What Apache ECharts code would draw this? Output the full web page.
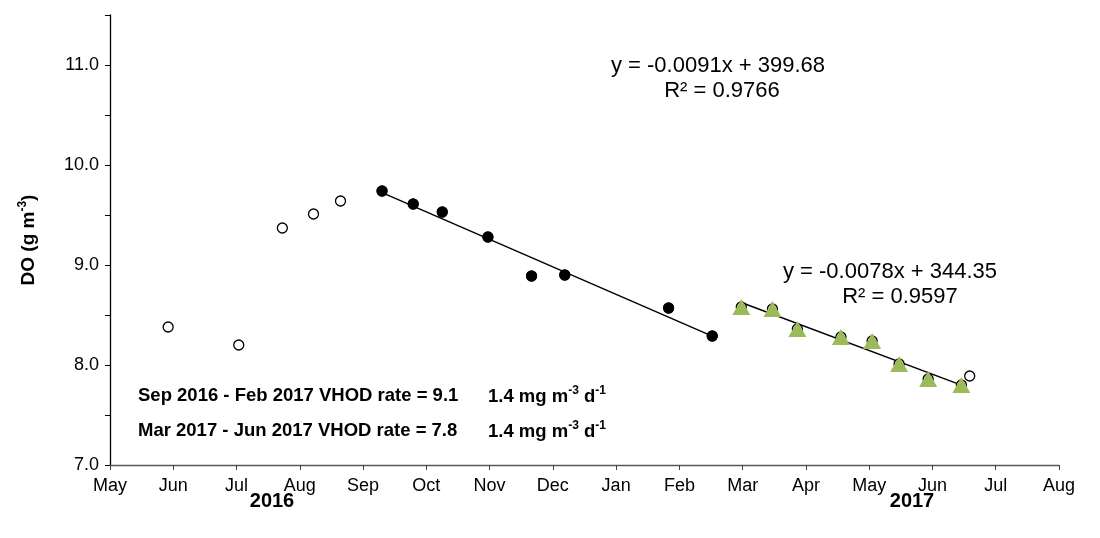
<!DOCTYPE html>
<html>
<head>
<meta charset="utf-8">
<script src="https://cdn.jsdelivr.net/npm/echarts@6/dist/echarts.min.js"></script>
<style>
  html, body { margin: 0; padding: 0; background: #fff; }
  #chart { width: 1100px; height: 538px; }
</style>
</head>
<body>
<div id="chart"></div>
<script>
// ---- Data ----
const monthLabels = ['May','Jun','Jul','Aug','Sep','Oct','Nov','Dec','Jan','Feb','Mar','Apr','May','Jun','Jul','Aug'];
const yTickLabels = ['7.0','8.0','9.0','10.0','11.0'];

// all profile dates (open circles)
const allDates = ['2016-05-29','2016-07-02','2016-07-23','2016-08-07','2016-08-20',
  '2016-09-09','2016-09-24','2016-10-08','2016-10-30','2016-11-20','2016-12-06','2017-01-25','2017-02-15',
  '2017-03-01','2017-03-16','2017-03-28','2017-04-18','2017-05-03','2017-05-16','2017-05-30','2017-06-15',
  '2017-06-19'];
const allDO = [8.38, 8.20, 9.37, 9.51, 9.64,
  9.74, 9.61, 9.53, 9.28, 8.89, 8.90, 8.57, 8.29,
  8.58, 8.56, 8.36, 8.28, 8.24, 8.01, 7.86, 7.80,
  7.89];

// Sep 2016 - Feb 2017 VHOD period (filled circles)
const sepFebDates = ['2016-09-09','2016-09-24','2016-10-08','2016-10-30','2016-11-20','2016-12-06','2017-01-25','2017-02-15'];
const sepFebDO = [9.74, 9.61, 9.53, 9.28, 8.89, 8.90, 8.57, 8.29];

// Mar 2017 - Jun 2017 VHOD period (green triangles)
const marJunDates = ['2017-03-01','2017-03-16','2017-03-28','2017-04-18','2017-05-03','2017-05-16','2017-05-30','2017-06-15'];
const marJunDO = [8.58, 8.56, 8.36, 8.28, 8.24, 8.01, 7.86, 7.80];

const eq1 = ['y = -0.0091x + 399.68', 'R² = 0.9766'];
const eq2 = ['y = -0.0078x + 344.35', 'R² = 0.9597'];
const rate1 = ['Sep 2016 - Feb 2017 VHOD rate = 9.1', '1.4 mg m', '-3', ' d', '-1'];
const rate2 = ['Mar 2017 - Jun 2017 VHOD rate = 7.8', '1.4 mg m', '-3', ' d', '-1'];
const yearLabels = ['2016', '2017'];

// ---- Axis mapping: evenly spaced month ticks (start 1 May 2016, 15 intervals to 1 Aug 2017) ----
const origin = Date.UTC(2016, 4, 1);
const spanDays = (Date.UTC(2017, 7, 1) - origin) / 86400000;
const unitDays = spanDays / 15;
function toX(d) {
  const p = d.split('-').map(Number);
  return (Date.UTC(p[0], p[1] - 1, p[2]) - origin) / 86400000 / unitDays;
}
function pairs(dates, vals) { return dates.map((d, i) => [toX(d), vals[i]]); }
function fitLine(pts) {
  const n = pts.length;
  let sx = 0, sy = 0, sxx = 0, sxy = 0;
  pts.forEach(p => { sx += p[0]; sy += p[1]; sxx += p[0]*p[0]; sxy += p[0]*p[1]; });
  const b = (n*sxy - sx*sy) / (n*sxx - sx*sx);
  const a = (sy - b*sx) / n;
  const x0 = pts[0][0], x1 = pts[n-1][0];
  return [[x0, a + b*x0], [x1, a + b*x1]];
}

const allPts = pairs(allDates, allDO);
const sfPts = pairs(sepFebDates, sepFebDO);
const mjPts = pairs(marJunDates, marJunDO);

const FONT = '"Liberation Sans", Arial, sans-serif';
const chart = echarts.init(document.getElementById('chart'), null, { renderer: 'canvas' });

const richSmall = {
  b: { fontFamily: FONT, fontSize: 18.5, fontWeight: 'bold', color: '#000', lineHeight: 21, verticalAlign: 'bottom' },
  s: { fontFamily: FONT, fontSize: 12, fontWeight: 'bold', color: '#000', lineHeight: 21, verticalAlign: 'top' }
};

function rateText(arr, yc) {
  return [
    { type: 'text', x: 138, y: yc, style: { text: arr[0], font: 'bold 18.5px ' + FONT, fill: '#000', textVerticalAlign: 'middle' } },
    { type: 'text', x: 488, y: yc - 11, style: {
        text: '{b|' + arr[1] + '}{s|' + arr[2] + '}{b|' + arr[3] + '}{s|' + arr[4] + '}', rich: richSmall } }
  ];
}
function centerText(str, cx, cy, font) {
  return { type: 'text', x: cx, y: cy, style: { text: str, font: font, fill: '#000', textAlign: 'center', textVerticalAlign: 'middle' } };
}

const option = {
  backgroundColor: '#fff',
  animation: false,
  grid: { left: 110, right: 41, top: 15, bottom: 73, containLabel: false },
  xAxis: {
    type: 'value', min: 0, max: 15, interval: 1,
    axisLine: { show: true, lineStyle: { color: '#595959', width: 1.3 } },
    axisTick: { show: true, length: 5, lineStyle: { color: '#404040' } },
    splitLine: { show: false },
    axisLabel: { fontFamily: FONT, fontSize: 18, color: '#000', margin: 12,
      formatter: v => monthLabels[Math.round(v)] || '' }
  },
  yAxis: {
    type: 'value', min: 7, max: 11.5, interval: 0.5,
    axisLine: { show: true, lineStyle: { color: '#000', width: 1.3 } },
    axisTick: { show: true, length: 5, lineStyle: { color: '#000' } },
    splitLine: { show: false },
    axisLabel: { fontFamily: FONT, fontSize: 18, color: '#000', margin: 11,
      formatter: v => (Math.abs(v - Math.round(v)) < 1e-6 ? yTickLabels[Math.round(v) - 7] || '' : '') },
    name: '{t|DO (g m}{s|-3}{t|)}',
    nameLocation: 'middle', nameRotate: 90, nameGap: 72,
    nameTextStyle: {
      rich: {
        t: { fontFamily: FONT, fontSize: 19, fontWeight: 'bold', color: '#000', lineHeight: 21, verticalAlign: 'bottom' },
        s: { fontFamily: FONT, fontSize: 12, fontWeight: 'bold', color: '#000', lineHeight: 21, verticalAlign: 'top' }
      }
    }
  },
  series: [
    { name: 'trend1', type: 'line', data: fitLine(sfPts), symbol: 'none',
      lineStyle: { color: '#000', width: 1.5 }, z: 2 },
    { name: 'trend2', type: 'line', data: fitLine(mjPts), symbol: 'none',
      lineStyle: { color: '#000', width: 1.5 }, z: 2 },
    { name: 'all', type: 'scatter', data: allPts, symbol: 'circle', symbolSize: 10,
      itemStyle: { color: '#fff', borderColor: '#000', borderWidth: 1.3, opacity: 1 }, z: 3 },
    { name: 'sepFeb', type: 'scatter', data: sfPts, symbol: 'circle', symbolSize: 11,
      itemStyle: { color: '#000', opacity: 1 }, z: 4 },
    { name: 'marJun', type: 'scatter', data: mjPts, symbol: 'triangle', symbolSize: [18, 16],
      symbolOffset: [0, 0], itemStyle: { color: '#9BBB59', opacity: 1 }, z: 5 }
  ],
  graphic: [
    centerText(eq1[0], 718, 66, '22px ' + FONT),
    centerText(eq1[1], 722, 91, '22px ' + FONT),
    centerText(eq2[0], 890, 272, '22px ' + FONT),
    centerText(eq2[1], 900, 297, '22px ' + FONT),
    ...rateText(rate1, 396),
    ...rateText(rate2, 431),
    centerText(yearLabels[0], 272, 501, 'bold 20px ' + FONT),
    centerText(yearLabels[1], 912, 501, 'bold 20px ' + FONT)
  ]
};
chart.setOption(option);
</script>
</body>
</html>
